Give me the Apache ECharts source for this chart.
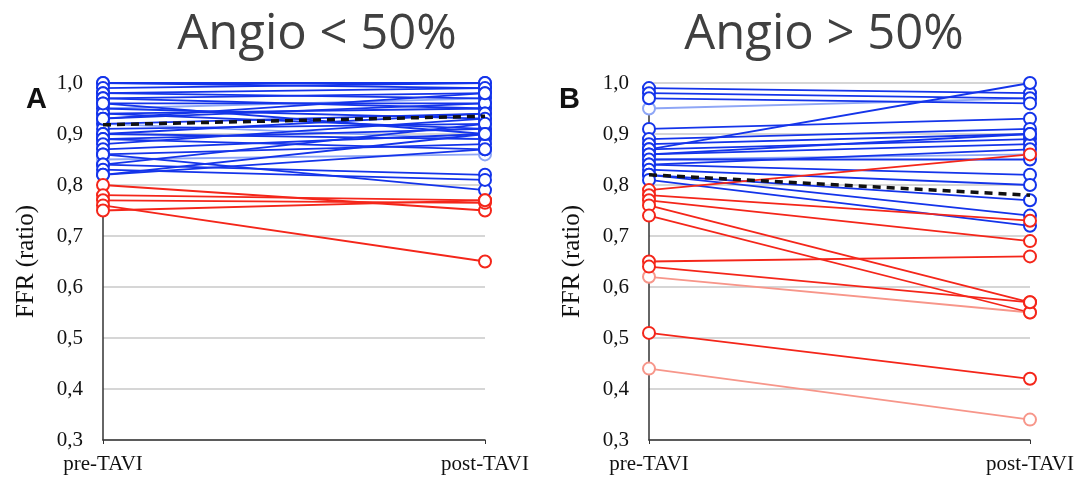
<!DOCTYPE html>
<html>
<head>
<meta charset="utf-8">
<script src="https://cdn.jsdelivr.net/npm/echarts@6/dist/echarts.min.js"></script>
<style>
  html, body { margin: 0; padding: 0; background: #fff; }
  #chart { width: 1083px; height: 481px; }
</style>
</head>
<body>
<div id="chart"></div>
<script>
// categories / ticks
var categories = ['pre-TAVI', 'post-TAVI'];
var yTicks = [0.3, 0.4, 0.5, 0.6, 0.7, 0.8, 0.9, 1.0];

// panel A : Angio < 50%
var aPreBlue  = [1.00, 1.00, 0.99, 0.98, 0.98, 0.97, 0.97, 0.96, 0.95, 0.94, 0.94, 0.93, 0.92, 0.91, 0.90, 0.90, 0.89, 0.89, 0.88, 0.87, 0.86, 0.86, 0.84, 0.84, 0.83, 0.82, 0.82, 0.96, 0.93];
var aPostBlue = [1.00, 0.99, 1.00, 0.97, 0.99, 0.98, 0.95, 0.96, 0.93, 0.95, 0.91, 0.96, 0.94, 0.92, 0.94, 0.89, 0.91, 0.87, 0.93, 0.90, 0.79, 0.88, 0.92, 0.82, 0.81, 0.90, 0.87, 0.90, 0.98];
var aPreBlueLight  = [0.95, 0.85, 0.92];
var aPostBlueLight = [0.97, 0.86, 0.89];
var aPreRed  = [0.80, 0.78, 0.77, 0.76, 0.75];
var aPostRed = [0.75, 0.77, 0.765, 0.65, 0.77];
var aMean = [0.918, 0.935];

// panel B : Angio > 50%
var bPreBlue  = [0.99, 0.98, 0.97, 0.91, 0.89, 0.88, 0.87, 0.87, 0.86, 0.86, 0.85, 0.84, 0.84, 0.83, 0.82, 0.82, 0.81];
var bPostBlue = [0.98, 0.97, 0.96, 0.93, 0.91, 0.90, 1.00, 0.89, 0.88, 0.90, 0.85, 0.87, 0.82, 0.80, 0.77, 0.74, 0.72];
var bPreBlueLight  = [0.95, 0.85];
var bPostBlueLight = [0.97, 0.86];
var bPreRed  = [0.79, 0.78, 0.77, 0.76, 0.74, 0.65, 0.64, 0.51];
var bPostRed = [0.86, 0.73, 0.69, 0.57, 0.55, 0.66, 0.57, 0.42];
var bPreRedLight  = [0.62, 0.44];
var bPostRedLight = [0.55, 0.34];
var bMean = [0.82, 0.78];

var BLUE = '#1434ea', BLUE_LIGHT = '#8ea6f6';
var RED = '#f4261a', RED_LIGHT = '#f7968a';

function pairs(pre, post, color, idx) {
    return pre.map(function (v, i) {
        return {
            type: 'line',
            xAxisIndex: idx,
            yAxisIndex: idx,
            data: [v, post[i]],
            symbol: 'emptyCircle',
            symbolSize: 12,
            itemStyle: { color: color, borderWidth: 1.6 },
            lineStyle: { color: color, width: 1.8 },
            silent: true
        };
    });
}

function meanLine(vals, idx) {
    return {
        type: 'line',
        xAxisIndex: idx,
        yAxisIndex: idx,
        data: vals,
        symbol: 'none',
        z: 10,
        lineStyle: { color: '#111', width: 3.5, type: [8, 6] },
        silent: true
    };
}

function yAxisOf(idx) {
    return {
        type: 'value',
        gridIndex: idx,
        min: yTicks[0],
        max: yTicks[yTicks.length - 1],
        interval: 0.1,
        name: 'FFR (ratio)',
        nameLocation: 'middle',
        nameGap: 64,
        nameTextStyle: { fontFamily: 'Liberation Serif', fontSize: 25, color: '#111' },
        axisLine: { show: true, lineStyle: { color: '#333', width: 1.5 } },
        axisTick: { show: false },
        axisLabel: {
            margin: 20,
            fontFamily: 'Liberation Serif',
            fontSize: 21,
            color: '#111',
            formatter: function (v) { return v.toFixed(1).replace('.', ','); }
        },
        splitLine: { lineStyle: { color: '#c8c8c8', width: 1.5 } }
    };
}

function xAxisOf(idx) {
    return {
        type: 'category',
        gridIndex: idx,
        data: categories,
        boundaryGap: false,
        axisLine: { lineStyle: { color: '#333', width: 1.5 } },
        axisTick: { show: true, length: 4 },
        axisLabel: { margin: 14, fontFamily: 'Liberation Serif', fontSize: 21, color: '#111' }
    };
}

var chart = echarts.init(document.getElementById('chart'));
var option = {
    animation: false,
    backgroundColor: '#fff',
    title: [
        { text: 'Angio < 50%', left: 312, top: 6, textAlign: 'center',
          textStyle: { fontFamily: 'Open Sans', fontWeight: 'normal', fontSize: 49, color: '#404040' } },
        { text: 'Angio > 50%', left: 819, top: 6, textAlign: 'center',
          textStyle: { fontFamily: 'Open Sans', fontWeight: 'normal', fontSize: 49, color: '#404040' } },
        { text: 'A', left: 21, top: 80,
          textStyle: { fontFamily: 'Liberation Sans', fontWeight: 'bold', fontSize: 29, color: '#111' } },
        { text: 'B', left: 554, top: 80,
          textStyle: { fontFamily: 'Liberation Sans', fontWeight: 'bold', fontSize: 29, color: '#111' } }
    ],
    grid: [
        { left: 103, right: 598, top: 83, bottom: 41 },
        { left: 649, right: 53, top: 83, bottom: 41 }
    ],
    xAxis: [xAxisOf(0), xAxisOf(1)],
    yAxis: [yAxisOf(0), yAxisOf(1)],
    series: [].concat(
        pairs(aPreBlueLight, aPostBlueLight, BLUE_LIGHT, 0),
        pairs(aPreBlue, aPostBlue, BLUE, 0),
        pairs(aPreRed, aPostRed, RED, 0),
        [meanLine(aMean, 0)],
        pairs(bPreBlueLight, bPostBlueLight, BLUE_LIGHT, 1),
        pairs(bPreBlue, bPostBlue, BLUE, 1),
        pairs(bPreRedLight, bPostRedLight, RED_LIGHT, 1),
        pairs(bPreRed, bPostRed, RED, 1),
        [meanLine(bMean, 1)]
    )
};
chart.setOption(option);
window.addEventListener('resize', function () {
    chart.resize();
});
</script>
</body>
</html>
